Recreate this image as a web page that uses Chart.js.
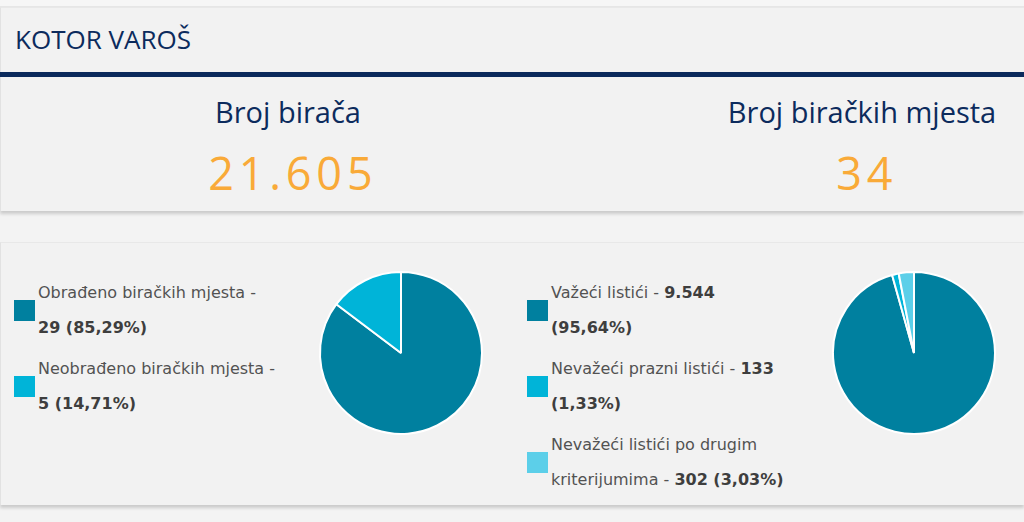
<!DOCTYPE html>
<html>
<head>
<meta charset="utf-8">
<script src="https://cdn.jsdelivr.net/npm/chart.js@4"></script>
<style>
    body { margin: 0; width: 1024px; height: 522px; background: #f3f3f3; position: relative; overflow: hidden; }
    .strip { position: absolute; left: 0; top: 0; width: 1024px; height: 6px; background: #f6f6f6; border-bottom: 1px solid #e6e6e6; }
    .panel { position: absolute; left: 0; width: 1023px; background: #f2f2f2; border-left: 1px solid #e2e2e2; border-top: 1px solid #e8e8e8; box-shadow: 0 3px 3px rgba(0, 0, 0, 0.16); }
    .title { position: absolute; left: 15px; top: 26px; font: 26px/26px 'Open Sans', sans-serif; color: #0c2b5d; }
    .bar { position: absolute; left: 0; top: 72px; width: 1024px; height: 5px; background: #0b2a5c; }
    .head { position: absolute; width: 400px; text-align: center; font: 29px/29px 'Open Sans', sans-serif; color: #0c2b5d; }
    .num { position: absolute; width: 400px; text-align: center; font: 45px/45px 'Open Sans', sans-serif; color: #f9aa38; letter-spacing: 4.8px; padding-left: 4.8px; }
    .legend { position: absolute; font: 16px 'DejaVu Sans', sans-serif; color: #525252; }
    .item { position: relative; padding-left: 24px; margin-bottom: 6px; line-height: 35px; white-space: nowrap; }
    .item b { color: #3e3e3e; }
    .sw { position: absolute; left: 0; top: 24.5px; width: 21px; height: 21px; }
    canvas { position: absolute; }
</style>
</head>
<body>
<div class="strip"></div>
<div class="panel" style="top:7px;height:203px;"></div>
<div class="panel" style="top:242px;height:262px;"></div>
<div class="title">KOTOR VAROŠ</div>
<div class="bar"></div>
<div class="head" id="h1" style="left:88px;top:97px;"></div>
<div class="num" id="n1" style="left:88px;top:150px;"></div>
<div class="head" id="h2" style="left:662px;top:97px;"></div>
<div class="num" id="n2" style="left:662px;top:150px;"></div>
<div class="legend" id="legendLeft" style="left:14px;top:275px;"></div>
<div class="legend" id="legendRight" style="left:527px;top:275px;"></div>
<canvas id="stationsPie" width="170" height="170" style="left:316px;top:268px;"></canvas>
<canvas id="ballotsPie" width="170" height="170" style="left:829px;top:268px;"></canvas>
<script>
// Kotor Varoš - voters, polling stations, ballots

const voterCount = 21605;
const stationCount = 34;

const stationLabels = ['Obrađeno biračkih mjesta', 'Neobrađeno biračkih mjesta'];
const stationValues = [29, 5];
const stationShares = ['85,29%', '14,71%'];

const ballotLabels = ['Važeći listići', 'Nevažeći prazni listići', 'Nevažeći listići po drugim kriterijumima'];
const ballotValues = [9544, 133, 302];
const ballotShares = ['95,64%', '1,33%', '3,03%'];

const stationColors = ['#00809f', '#00b4d8'];
const ballotColors = ['#00809f', '#00b4d8', '#5ccfe9'];

const fmt = n => n.toLocaleString('de-DE');

document.getElementById('h1').textContent = 'Broj birača';
document.getElementById('n1').textContent = fmt(voterCount);
document.getElementById('h2').textContent = 'Broj biračkih mjesta';
document.getElementById('n2').textContent = fmt(stationCount);

// where each legend entry wraps: 'value' = before the count, 'share' = before the percentage, number = after n words
function legendItem(label, value, share, color, wrap) {
    let text;
    if (wrap === 'value') {
        text = label + ' -<br><b>' + fmt(value) + ' (' + share + ')</b>';
    } else if (wrap === 'share') {
        text = label + ' - <b>' + fmt(value) + '</b><br><b>(' + share + ')</b>';
    } else {
        const words = label.split(' ');
        text = words.slice(0, wrap).join(' ') + '<br>' + words.slice(wrap).join(' ') +
            ' - <b>' + fmt(value) + ' (' + share + ')</b>';
    }
    return '<div class="item"><span class="sw" style="background:' + color + '"></span>' + text + '</div>';
}

document.getElementById('legendLeft').innerHTML = stationLabels.map((l, i) =>
    legendItem(l, stationValues[i], stationShares[i], stationColors[i], 'value')).join('');
const ballotWrap = ['share', 'share', 4];
document.getElementById('legendRight').innerHTML = ballotLabels.map((l, i) =>
    legendItem(l, ballotValues[i], ballotShares[i], ballotColors[i], ballotWrap[i])).join('');

function pie(id, labels, values, colors) {
    new Chart(document.getElementById(id).getContext('2d'), {
        type: 'pie',
        data: {
            labels: labels,
            datasets: [{
                data: values,
                backgroundColor: colors,
                borderColor: '#fff',
                borderWidth: 2,
                radius: 81
            }]
        },
        options: {
            responsive: false,
            animation: false,
            layout: { padding: 0 },
            plugins: {
                legend: { display: false },
                tooltip: { enabled: false }
            }
        }
    });
}

pie('stationsPie', stationLabels, stationValues, stationColors);
pie('ballotsPie', ballotLabels, ballotValues, ballotColors);
</script>
</body>
</html>
